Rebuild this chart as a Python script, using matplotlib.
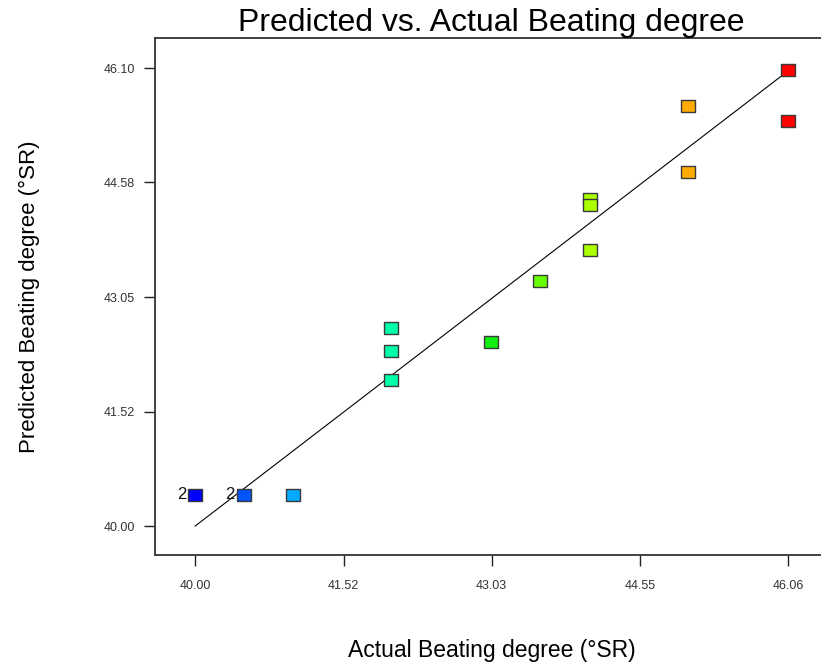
import matplotlib
matplotlib.use("Agg")
import matplotlib.pyplot as plt

plt.rcParams['font.family'] = ['Liberation Sans', 'DejaVu Sans']

# Data (actual, predicted)
actual = [40.00, 40.50, 41.00, 42.00, 42.00, 42.00, 43.02, 43.53,
          44.04, 44.04, 44.04, 45.04, 45.04, 46.06, 46.06]
predicted = [40.41, 40.41, 40.41, 42.64, 42.33, 41.94, 42.45, 43.26,
             44.35, 44.28, 43.68, 45.60, 44.71, 46.07, 45.40]
counts = [2, 2, 1, 1, 1, 1, 1, 1, 1, 1, 1, 1, 1, 1, 1]
point_colors = ['#0000ff', '#0055ff', '#00aaff', '#00ffaa', '#00ffaa', '#00ffaa',
                '#11ee11', '#66ff00', '#aaff00', '#aaff00', '#aaff00',
                '#ffaa00', '#ffaa00', '#ff0000', '#ff0000']

x_ticks = [40.00, 41.52, 43.03, 44.55, 46.06]
y_ticks = [40.00, 41.52, 43.05, 44.58, 46.10]
x_tick_labels = ['40.00', '41.52', '43.03', '44.55', '46.06']
y_tick_labels = ['40.00', '41.52', '43.05', '44.58', '46.10']

W, H = 821, 667
fig = plt.figure(figsize=(W / 100, H / 100), dpi=100)
left, right, top, bottom = 155, 828, 38, 555
ax = fig.add_axes([left / W, 1 - bottom / H, (right - left) / W, (bottom - top) / H])

ax.set_xlim(39.59, 46.47)
ax.set_ylim(39.615, 46.50)

# 45-degree reference line
ax.plot([min(actual), max(actual)], [min(actual), max(actual)],
        color='black', lw=0.8, zorder=2)

rect = [(-1.2, -1), (1.2, -1), (1.2, 1), (-1.2, 1), (-1.2, -1)]
for xa, yp, c in zip(actual, predicted, point_colors):
    ax.plot(xa, yp, marker=rect, markersize=10.5, markerfacecolor=c,
            markeredgecolor='#3a3a3a', markeredgewidth=1.0, linestyle='none', zorder=3)

for xa, yp, n in zip(actual, predicted, counts):
    if n > 1:
        ax.annotate(str(n), (xa, yp), xytext=(-6.5, 0.5), textcoords='offset points',
                    ha='right', va='center', fontsize=12, color='#111111')

ax.set_xticks(x_ticks)
ax.set_xticklabels(x_tick_labels)
ax.set_yticks(y_ticks)
ax.set_yticklabels(y_tick_labels)
ax.tick_params(direction='out', length=8, width=1.0, color='#222222',
               labelsize=9, labelcolor='#333333')
ax.tick_params(axis='x', pad=10)
ax.tick_params(axis='y', pad=6.5)

for s in ['left', 'bottom', 'top', 'right']:
    ax.spines[s].set_linewidth(1.3)
    ax.spines[s].set_color('#333333')

ax.set_xlabel('Actual Beating degree (°SR)', fontsize=16.5, labelpad=34)
ax.set_ylabel('Predicted Beating degree (°SR)', fontsize=16, labelpad=46)
ax.set_title('Predicted vs. Actual Beating degree', fontsize=23, pad=4)

fig.savefig('out.png', dpi=100)
